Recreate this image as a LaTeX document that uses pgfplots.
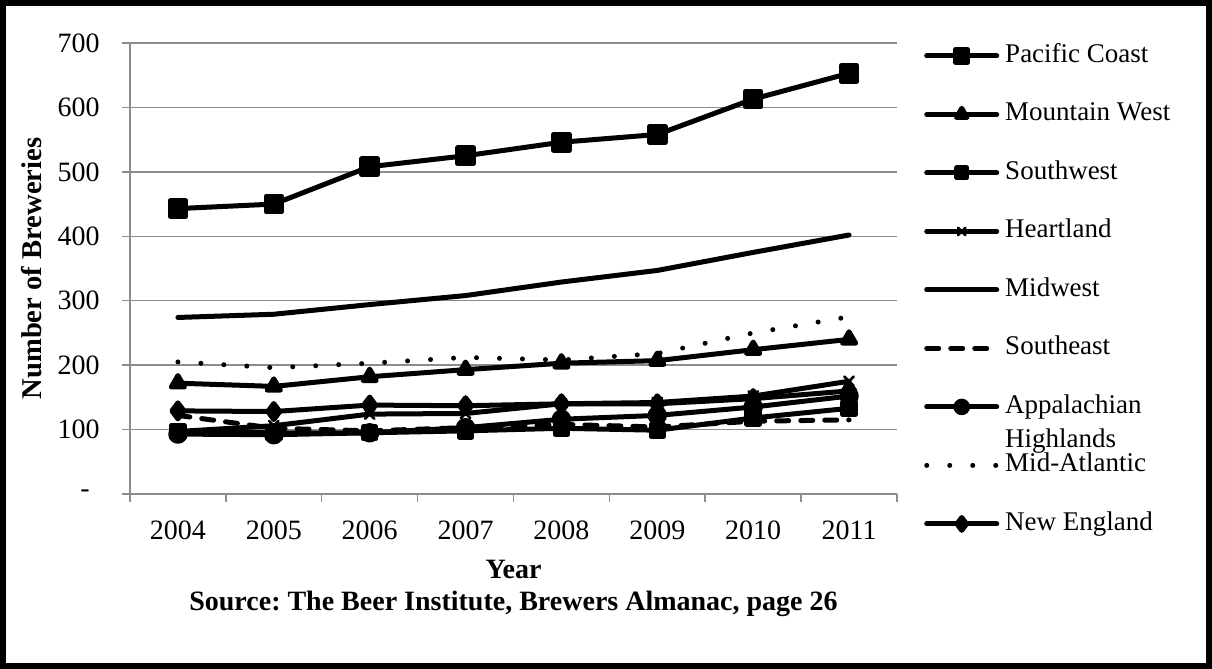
\documentclass[border=0pt]{standalone}
\usepackage{fontspec}
\setmainfont{Liberation Serif}
\usepackage{pgfplots}
\pgfplotsset{compat=1.18}
\newcommand\f{\fontsize{13.5}{17}\selectfont}
\definecolor{gridgray}{HTML}{8C8C8C}
\begin{document}
\begin{tikzpicture}
\useasboundingbox (0,0) rectangle (606pt,334.5pt);
\draw[line width=3pt] (1.5pt,1.5pt) rectangle (604.5pt,333pt);
\begin{axis}[
  at={(65pt,87.5pt)}, anchor=south west,
  scale only axis, width=383.5pt, height=225.5pt,
  xmin=-0.5, xmax=7.5, ymin=0, ymax=700,
  axis x line*=bottom, axis y line*=left,
  axis line style={gridgray, line width=0.75pt},
  ymajorgrids, grid style={gridgray, line width=0.75pt},
  tick align=outside, major tick length=4pt, minor tick length=4pt,
  every tick/.style={gridgray, line width=0.75pt},
  every major x tick/.append style={draw=none},
  xtick={0,...,7},
  xticklabels={2004,2005,2006,2007,2008,2009,2010,2011},
  minor xtick={-0.5,0.5,1.5,2.5,3.5,4.5,5.5,6.5,7.5},
  ytick={0,100,200,300,400,500,600,700},
  yticklabels={-\hspace*{5pt},100,200,300,400,500,600,700},
  /pgf/number format/assume math mode=true,
  ticklabel style={font=\fontsize{14}{17}\selectfont, inner sep=0pt},
  yticklabel style={anchor=east, xshift=-11pt},
  xticklabel style={anchor=north, yshift=-9pt},
  xlabel={Year\\Source:\ The Beer Institute, Brewers Almanac, page 26},
  every axis x label/.style={at={(axis description cs:0.5,0)}, anchor=north, yshift=-33pt, inner sep=0pt, align=center, font=\fontsize{14}{16}\selectfont\bfseries},
  ylabel={Number of Breweries},
  every axis y label/.style={at={(axis description cs:-0.1278,0.5)}, rotate=90, anchor=center, inner sep=0pt, font=\fontsize{14.3}{17}\selectfont\bfseries},
  legend cell align=left,
  legend style={draw=none, fill=none, at={(axis description cs:1.035,1.0)}, anchor=north west, inner sep=0pt, row sep=16.75pt, column sep=3pt, font=\f, nodes={inner sep=0pt, text height=9.5pt, text depth=3pt}},
  legend image code/.code={\draw[mark repeat=2,mark phase=2,#1, every mark/.append style={scale=0.8}] plot coordinates {(0pt,0pt) (17.5pt,0pt) (35pt,0pt)};},
  every axis plot/.append style={black, line width=2.5pt, line join=round, line cap=round},
  every mark/.append style={line width=0.4pt, solid},
]
\addplot[mark=square*, mark size=3.9pt] coordinates {(0,443) (1,450) (2,508) (3,525) (4,546) (5,558) (6,613) (7,653)};
\addlegendentry{Pacific Coast}
\addplot[mark=triangle*, mark size=3.8pt] coordinates {(0,172) (1,167) (2,182) (3,193) (4,203) (5,207) (6,224) (7,240)};
\addlegendentry{Mountain West}
\addplot[mark=square*, mark size=3.1pt] coordinates {(0,97) (1,95) (2,95) (3,98) (4,102) (5,99) (6,118) (7,133)};
\addlegendentry{Southwest}
\addplot[mark=x, mark size=3.3pt, mark options={line width=1.3pt}] coordinates {(0,97) (1,106) (2,124) (3,125) (4,140) (5,142) (6,152) (7,175)};
\addlegendentry{Heartland}
\addplot[no marks] coordinates {(0,274) (1,279) (2,294) (3,308) (4,329) (5,347) (6,375) (7,402)};
\addlegendentry{Midwest}
\addplot[no marks, dash pattern=on 6pt off 6pt] coordinates {(0,122) (1,102) (2,98) (3,103) (4,108) (5,104) (6,113) (7,115)};
\addlegendentry{Southeast}
\addplot[mark=*, mark size=3.6pt] coordinates {(0,93) (1,92) (2,95) (3,103) (4,116) (5,122) (6,135) (7,152)};
\addlegendentry{\begin{tabular}[t]{@{}l@{}}Appalachian\\Highlands\end{tabular}}
\addplot[no marks, dash pattern=on 0pt off 11.5pt] coordinates {(0,205) (1,196) (2,203) (3,212) (4,208) (5,218) (6,250) (7,275)};
\addlegendentry{Mid-Atlantic}
\addplot[mark=diamond*, mark size=4pt] coordinates {(0,129) (1,128) (2,138) (3,137) (4,140) (5,140) (6,148) (7,160)};
\addlegendentry{New England}
\end{axis}
\end{tikzpicture}
\end{document}
